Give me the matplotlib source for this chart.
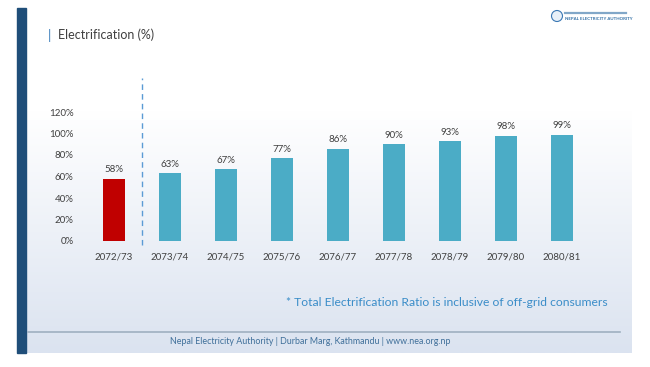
import numpy as np
import matplotlib
matplotlib.use("Agg")
import matplotlib.pyplot as plt
from matplotlib.patches import Rectangle, Circle

# data
years = ["2072/73", "2073/74", "2074/75", "2075/76", "2076/77",
         "2077/78", "2078/79", "2079/80", "2080/81"]
electrification = [58, 63, 67, 77, 86, 90, 93, 98, 99]
y_ticks = [0, 20, 40, 60, 80, 100, 120]

title = "Electrification (%)"
footnote = "* Total Electrification Ratio is inclusive of off-grid consumers"
footer = "Nepal Electricity Authority | Durbar Marg, Kathmandu | www.nea.org.np"

plt.rcParams['font.family'] = ['Lato', 'DejaVu Sans']

W, H = 650, 367
fig = plt.figure(figsize=(W / 100, H / 100), dpi=100)
fig.patch.set_facecolor("white")


def fx(px):
    return px / W


def fy(py):
    return 1 - py / H


# slide background (white at top, light blue towards the bottom)
bg = fig.add_axes([0, 0, 1, 1])
bg.set_xlim(0, W)
bg.set_ylim(H, 0)
bg.axis("off")
grad = np.linspace(0, 1, 256).reshape(-1, 1)
grad = np.clip((grad - 0.3) / 0.7, 0, 1)
top = np.array([1.0, 1.0, 1.0])
bottom = np.array([0xdb, 0xe3, 0xf0]) / 255
img = top + grad[..., None] * (bottom - top)
bg.imshow(img, extent=[17, 632, 353, 8], aspect="auto", zorder=0)
bg.add_patch(Rectangle((17, 8), 9, 345, color="#1f4e79", zorder=1))
bg.plot([28, 620], [332, 332], color="#9fb0c0", lw=1.2, zorder=1)

# title
bg.text(48, 35, "|", color="#2e75b6", fontsize=9.5, va="center")
bg.text(58, 35, title, color="#404040", fontsize=9, va="center")

# logo
bg.add_patch(Circle((557, 16), 5.5, facecolor="#e8f0f8", edgecolor="#3b78b4", lw=0.8, zorder=2))
bg.text(565, 18.5, "NEPAL ELECTRICITY AUTHORITY", color="#2e6da4", fontsize=3.2,
        va="center", fontweight="bold")
bg.plot([565, 626], [13, 13], color="#2e6da4", lw=1.6, alpha=0.6)

# footnote and footer
bg.text(608, 302, footnote, color="#3a8dc8", fontsize=8.7, ha="right", va="center")
bg.text(310, 341, footer, color="#3f6f9a", fontsize=6.4, ha="center", va="center")

# chart
ax = fig.add_axes([fx(86), fy(241), fx(590) - fx(86), fy(112) - fy(241)])
ax.patch.set_alpha(0)
x = np.arange(len(years))
colors = ["#c00000"] + ["#4bacc6"] * (len(years) - 1)
bars = ax.bar(x, electrification, width=0.4, color=colors)
for xi, v in zip(x, electrification):
    ax.annotate(f"{v}%", (xi, v), xytext=(0, 3), textcoords="offset points",
                ha="center", va="bottom", fontsize=7, color="#404040")

ax.axvline(0.5, ymin=-0.03, ymax=1.26, color="#5b9bd5", ls=(0, (4, 3)), lw=1, clip_on=False)

ax.set_xlim(-0.5, len(years) - 0.5)
ax.set_ylim(0, 120)
ax.set_yticks(y_ticks)
ax.set_yticklabels([f"{t}%" for t in y_ticks])
ax.set_xticks(x)
ax.set_xticklabels(years)
ax.tick_params(length=0, labelsize=7, labelcolor="#404040")
ax.tick_params(axis="x", pad=8)
ax.tick_params(axis="y", pad=9)
for s in ax.spines.values():
    s.set_visible(False)

fig.savefig("out.png", dpi=100)
